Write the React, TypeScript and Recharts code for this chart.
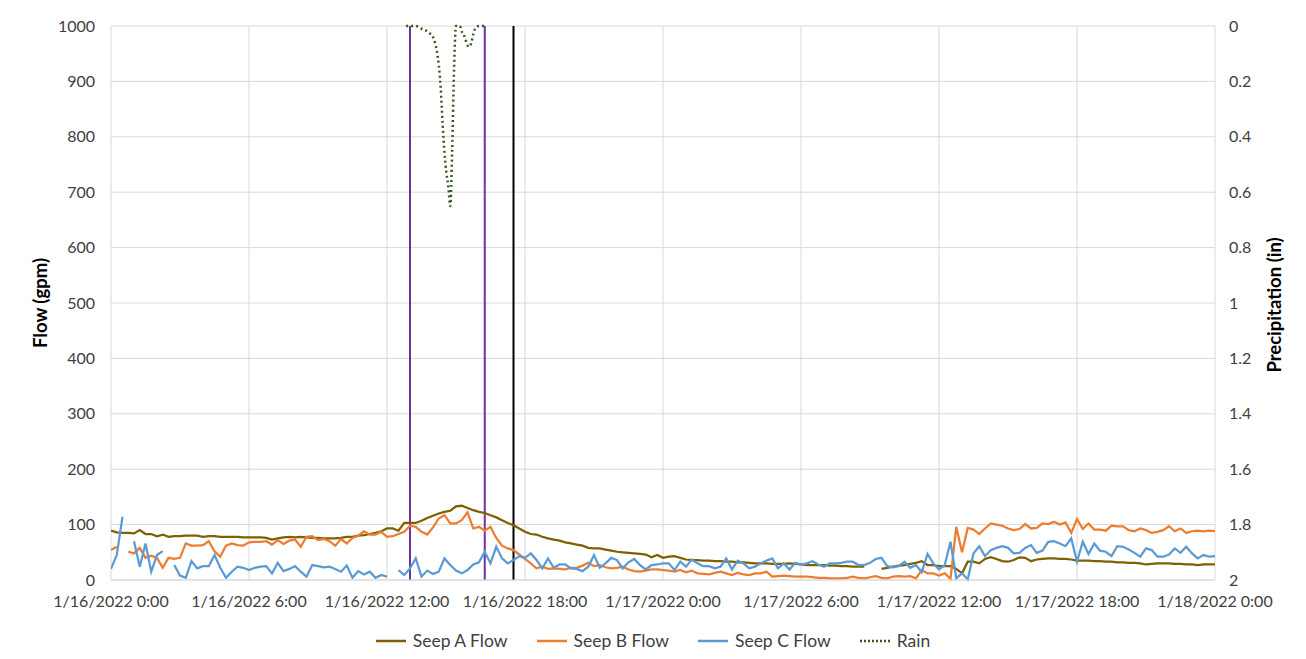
import React from "react"
import {
  LineChart,
  Line,
  XAxis,
  YAxis,
  CartesianGrid,
  ReferenceLine,
} from "recharts"

// x axis: hours since 1/16/2022 0:00
const xTicks = [0, 6, 12, 18, 24, 30, 36, 42, 48]
const xTickLabels = [
  "1/16/2022 0:00",
  "1/16/2022 6:00",
  "1/16/2022 12:00",
  "1/16/2022 18:00",
  "1/17/2022 0:00",
  "1/17/2022 6:00",
  "1/17/2022 12:00",
  "1/17/2022 18:00",
  "1/18/2022 0:00",
]
const flowTicks = [0, 100, 200, 300, 400, 500, 600, 700, 800, 900, 1000]
const rainTicks = [0, 0.2, 0.4, 0.6, 0.8, 1, 1.2, 1.4, 1.6, 1.8, 2]

// readings every 15 minutes, 0h .. 48h
const sampleHours = Array.from({ length: 193 }, (_, i) => i * 0.25)

const seepA = [
  89, 86, 85, 85, 84, 90, 83, 83, 79, 82, 78, 79, 79, 80, 80, 80, 78, 79, 79, 78, 78, 78, 78, 77,
  77, 77, 77, 76, 73, 75, 77, 78, 77, 78, 77, 76, 76, 75, 75, 75, 76, 78, 78, 80, 81, 83, 85, 88,
  93, 93, 89, 103, 103, 103, 107, 112, 116, 120, 123, 125, 133, 134, 130, 126, 123, 121, 117, 113, 108, 103, 99, 93,
  87, 83, 82, 78, 75, 73, 71, 68, 66, 64, 62, 58, 57, 57, 55, 53, 51, 50, 49, 48, 47, 46, 41, 45,
  40, 42, 43, 40, 37, 36, 36, 35, 35, 34, 34, 33, 33, 32, 32, 31, 30, 30, 30, 29, 29, 29, 30, 29,
  28, 27, 27, 27, 27, 26, 26, 25, 25, 24, 24, 24, null, null, 20, 22, 24, 26, 27, 29, 31, 34, 27, 27,
  25, 25, 25, 20, 12, 33, 33, 30, 38, 41, 38, 34, 33, 36, 41, 40, 34, 37, 38, 39, 39, 38, 38, 37,
  35, 35, 35, 34, 34, 33, 33, 32, 32, 31, 31, 30, 28, 29, 30, 30, 30, 29, 29, 28, 28, 27, 28, 28,
  28,
]

const seepB = [
  54, 60, null, 51, 48, 58, 40, 44, 40, 22, 40, 38, 40, 66, 62, 62, 63, 70, 52, 42, 62, 66, 63, 62,
  68, 69, 69, 70, 64, 72, 65, 71, 73, 60, 78, 79, 72, 74, 70, 62, 74, 66, 76, 80, 88, 82, 82, 87,
  78, 79, 83, 87, 98, 96, 87, 82, 95, 111, 117, 102, 102, 108, 122, 93, 96, 89, 96, 76, 62, 57, 54, 46,
  38, 30, 21, 24, 20, 21, 20, 19, 22, 22, 26, 31, 25, 27, 23, 21, 22, 24, 19, 16, 15, 17, 19, 19,
  18, 17, 15, 18, 14, 17, 12, 11, 10, 13, 15, 12, 9, 13, 10, 9, 12, 12, 15, 6, 7, 8, 7, 6,
  6, 6, 5, 4, 4, 3, 3, 3, 4, 6, 4, 3, 5, 7, 4, 3, 6, 7, 6, 7, 3, 18, 12, 12,
  8, 12, 2, 96, 50, 94, 91, 83, 93, 102, 100, 98, 93, 90, 92, 101, 93, 94, 102, 101, 105, 100, 104, 85,
  110, 92, 102, 91, 91, 89, 98, 97, 97, 90, 88, 93, 90, 85, 87, 90, 97, 88, 93, 85, 88, 89, 88, 89,
  88,
]

const seepC = [
  20, 45, 114, null, 70, 24, 66, 15, 45, 52, null, 27, 8, 4, 34, 21, 25, 25, 45, 22, 4, 15, 24, 22,
  18, 22, 24, 25, 12, 31, 16, 20, 25, 15, 6, 27, 25, 23, 24, 20, 15, 26, 4, 16, 10, 15, 4, 9,
  6, null, 18, 9, 21, 39, 6, 17, 11, 15, 39, 27, 17, 12, 18, 28, 32, 51, 30, 60, 39, 30, 36, 43,
  40, 48, 36, 21, 39, 22, 28, 28, 21, 20, 16, 24, 45, 22, 30, 40, 36, 21, 32, 38, 27, 19, 27, 28,
  30, 30, 18, 33, 24, 37, 30, 25, 25, 21, 24, 39, 19, 35, 30, 21, 24, 30, 35, 39, 21, 30, 19, 31,
  28, 30, 34, 28, 24, 30, 30, 31, 33, 33, 27, 27, 31, 38, 40, 25, 23, 25, 33, 22, 27, 14, 47, 30,
  19, 27, 69, 3, 12, 1, 48, 61, 43, 54, 58, 61, 58, 48, 49, 58, 63, 49, 53, 69, 70, 66, 61, 75,
  33, 69, 47, 66, 53, 51, 43, 61, 60, 55, 49, 42, 57, 54, 42, 42, 46, 57, 49, 60, 48, 39, 45, 42,
  43,
]

// rain gauge (inches), own timestamps
const rainHours = [
  12.833, 13.0, 13.25, 13.5, 13.667, 13.833, 14.0, 14.083, 14.167, 14.25, 14.333, 14.417, 14.5,
  14.583, 14.667, 14.75, 14.833, 14.917, 15.0, 15.167, 15.25, 15.333, 15.417, 15.5, 15.583, 15.667,
  15.75, 15.833, 16.0, 16.167, 16.333,
]
const rainIn = [
  0, 0, 0, 0.01, 0.015, 0.025, 0.04, 0.06, 0.09, 0.14, 0.22, 0.35, 0.46,
  0.53, 0.58, 0.65, 0.45, 0.15, 0, 0, 0.02, 0.03, 0.05, 0.07, 0.075, 0.06,
  0.03, 0.01, 0, 0, 0,
]

// event markers (hours)
const eventLines = [
  { x: 13, color: "#7030A0" },
  { x: 16.25, color: "#7030A0" },
  { x: 17.5, color: "#000000" },
]

const series = [
  { key: "a", name: "Seep A Flow", color: "#7F6000" },
  { key: "b", name: "Seep B Flow", color: "#ED7D31" },
  { key: "c", name: "Seep C Flow", color: "#5B9BD5" },
]

const flowRows = sampleHours.map((h, i) => ({
  h,
  a: seepA[i],
  b: seepB[i],
  c: seepC[i],
}))
const rainRows = rainHours.map((h, i) => ({ h, rain: rainIn[i] }))

const FONT = "Lato, 'Liberation Sans', sans-serif"
const GRID = "#D9D9D9"

export default function App() {
  return (
    <div
      style={{
        position: "fixed",
        left: 0,
        top: 0,
        width: 1306,
        height: 659,
        background: "#fff",
        fontFamily: FONT,
      }}
    >
      <LineChart
        width={1306}
        height={659}
        data={flowRows}
        margin={{ top: 26, right: 31, left: 51, bottom: 49 }}
      >
        <CartesianGrid stroke={GRID} strokeWidth={1} yAxisId="left" />
        <XAxis
          dataKey="h"
          type="number"
          domain={[0, 48]}
          ticks={xTicks}
          allowDataOverflow
          interval={0}
          height={30}
          tickLine={false}
          axisLine={{ stroke: GRID }}
          tickMargin={10}
          tick={{ fill: "#404040", fontSize: 16, fontFamily: FONT }}
          tickFormatter={(v) => xTickLabels[xTicks.indexOf(v)] ?? ""}
        />
        <YAxis
          yAxisId="left"
          domain={[0, 1000]}
          ticks={flowTicks}
          interval={0}
          width={60}
          axisLine={false}
          tickLine={false}
          tickMargin={10}
          tick={{ fill: "#404040", fontSize: 16, fontFamily: FONT }}
        />
        <YAxis
          yAxisId="right"
          orientation="right"
          reversed
          domain={[0, 2]}
          ticks={rainTicks}
          interval={0}
          width={60}
          axisLine={false}
          tickLine={false}
          tickMargin={8}
          tick={{ fill: "#404040", fontSize: 16, fontFamily: FONT }}
        />
        {eventLines.map((e) => (
          <ReferenceLine
            key={e.x}
            x={e.x}
            yAxisId="left"
            stroke={e.color}
            strokeWidth={2}
          />
        ))}
        {series.map((s) => (
          <Line
            key={s.key}
            yAxisId="left"
            type="linear"
            dataKey={s.key}
            name={s.name}
            stroke={s.color}
            strokeWidth={2.25}
            dot={false}
            activeDot={false}
            isAnimationActive={false}
          />
        ))}
        <Line
          yAxisId="right"
          data={rainRows}
          type="monotone"
          dataKey="rain"
          name="Rain"
          stroke="#375623"
          strokeWidth={2.5}
          strokeDasharray="2 3"
          dot={false}
          activeDot={false}
          isAnimationActive={false}
        />
      </LineChart>

      <div
        style={{
          position: "absolute",
          left: 40,
          top: 303,
          transform: "translate(-50%, -50%) rotate(-90deg)",
          fontWeight: 700,
          fontSize: 18.5,
          whiteSpace: "nowrap",
          color: "#000",
        }}
      >
        Flow (gpm)
      </div>
      <div
        style={{
          position: "absolute",
          left: 1274,
          top: 305,
          transform: "translate(-50%, -50%) rotate(-90deg)",
          fontWeight: 700,
          fontSize: 18.5,
          whiteSpace: "nowrap",
          color: "#000",
        }}
      >
        Precipitation (in)
      </div>

      <div
        style={{
          position: "absolute",
          left: 0,
          width: 1306,
          top: 630,
          display: "flex",
          justifyContent: "center",
          gap: 29,
          fontSize: 17.5,
          color: "#404040",
        }}
      >
        {[...series, { key: "rain", name: "Rain", color: "#375623" }].map((s) => (
          <div key={s.key} style={{ display: "flex", alignItems: "center", gap: 7 }}>
            <svg width={30} height={6}>
              <line
                x1={0}
                x2={30}
                y1={3}
                y2={3}
                stroke={s.color}
                strokeWidth={2.5}
                strokeDasharray={s.key === "rain" ? "2 2" : undefined}
              />
            </svg>
            <span>{s.name}</span>
          </div>
        ))}
      </div>
    </div>
  )
}
